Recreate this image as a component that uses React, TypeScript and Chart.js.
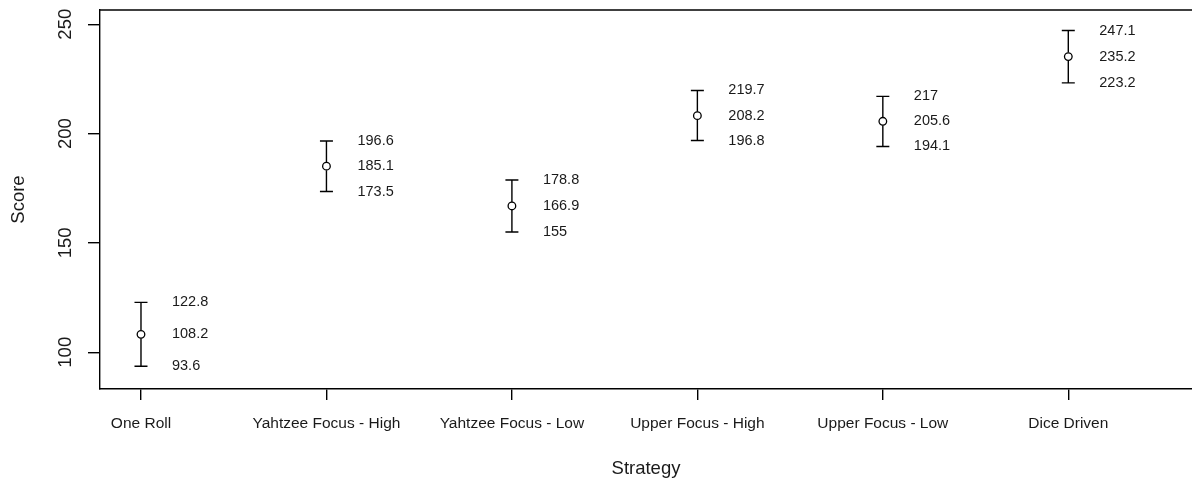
import React, { useEffect, useRef } from "react";
import { Chart, registerables } from "chart.js";

Chart.register(...registerables);

const categories = [
  "One Roll",
  "Yahtzee Focus - High",
  "Yahtzee Focus - Low",
  "Upper Focus - High",
  "Upper Focus - Low",
  "Dice Driven",
];
const meanScores = [108.2, 185.1, 166.9, 208.2, 205.6, 235.2];
const lowerBounds = [93.6, 173.5, 155, 196.8, 194.1, 223.2];
const upperBounds = [122.8, 196.6, 178.8, 219.7, 217, 247.1];
const yTickValues = [100, 150, 200, 250];

const FONT = "'Liberation Sans', Arial, sans-serif";
const TEXT = "#1a1a1a";

const errorBarPlugin = {
  id: "errorBars",
  afterDatasetsDraw(chart: any) {
    const { ctx, scales } = chart;
    const xs = scales.x;
    const ys = scales.y;
    ctx.save();
    ctx.strokeStyle = "#000";
    ctx.lineWidth = 1.4;
    ctx.fillStyle = TEXT;
    ctx.font = `14.5px ${FONT}`;
    ctx.textAlign = "left";
    ctx.textBaseline = "middle";
    categories.forEach((_, i) => {
      const x = xs.getPixelForValue(i + 1);
      const yHi = ys.getPixelForValue(upperBounds[i]);
      const yLo = ys.getPixelForValue(lowerBounds[i]);
      const yMid = ys.getPixelForValue(meanScores[i]);
      ctx.beginPath();
      ctx.moveTo(x, yHi);
      ctx.lineTo(x, yMid - 4);
      ctx.moveTo(x, yMid + 4);
      ctx.lineTo(x, yLo);
      ctx.moveTo(x - 6.5, yHi);
      ctx.lineTo(x + 6.5, yHi);
      ctx.moveTo(x - 6.5, yLo);
      ctx.lineTo(x + 6.5, yLo);
      ctx.stroke();
      ctx.fillText(String(upperBounds[i]), x + 31, yHi);
      ctx.fillText(String(meanScores[i]), x + 31, yMid);
      ctx.fillText(String(lowerBounds[i]), x + 31, yLo);
    });
    // box top line
    const a = chart.chartArea;
    ctx.lineWidth = 1.4;
    ctx.beginPath();
    ctx.moveTo(a.left, a.top);
    ctx.lineTo(chart.width, a.top);
    ctx.stroke();
    // rotated y tick labels
    ctx.font = `18.5px ${FONT}`;
    ctx.textAlign = "center";
    ctx.textBaseline = "middle";
    yTickValues.forEach((v) => {
      const y = ys.getPixelForValue(v);
      ctx.save();
      ctx.translate(66, y);
      ctx.rotate(-Math.PI / 2);
      ctx.fillText(String(v), 0, 0);
      ctx.restore();
    });
    ctx.restore();
  },
};

export default function App() {
  const ref = useRef<HTMLCanvasElement>(null);
  useEffect(() => {
    if (!ref.current) return;
    const chart = new Chart(ref.current, {
      type: "scatter",
      data: {
        datasets: [
          {
            data: meanScores.map((m, i) => ({ x: i + 1, y: m })),
            pointRadius: 3.8,
            pointHoverRadius: 3.8,
            pointBorderWidth: 1.3,
            borderColor: "#000",
            backgroundColor: "rgba(0,0,0,0)",
            pointBackgroundColor: "rgba(0,0,0,0)",
            pointBorderColor: "#000",
          },
        ],
      },
      options: {
        animation: false,
        responsive: false,
        devicePixelRatio: 1,
        layout: { autoPadding: false, padding: { top: 10, right: 0, left: 0, bottom: 0 } },
        plugins: {
          legend: { display: false },
          tooltip: { enabled: false },
        },
        scales: {
          x: {
            type: "linear",
            min: 0.779,
            max: 6.667,
            afterBuildTicks: (scale: any) => {
              scale.ticks = categories.map((_, i) => ({ value: i + 1 }));
            },
            afterFit: (scale: any) => {
              scale.height = 93;
              scale.paddingLeft = 0;
              scale.paddingRight = 0;
            },
            ticks: {
              autoSkip: false,
              maxRotation: 0,
              minRotation: 0,
              padding: 14,
              color: TEXT,
              font: { family: FONT, size: 15.5 },
              callback: (v: any) => categories[Math.round(Number(v)) - 1] ?? "",
            },
            grid: {
              drawOnChartArea: false,
              drawTicks: true,
              tickLength: 11,
              color: "#000",
              lineWidth: 1.4,
            },
            border: { display: true, color: "#000", width: 1.4 },
            title: {
              display: true,
              text: "Strategy",
              color: TEXT,
              font: { family: FONT, size: 18.5 },
              padding: { top: 0, bottom: 2 },
            },
          },
          y: {
            type: "linear",
            min: 83.2,
            max: 256.5,
            afterBuildTicks: (scale: any) => {
              scale.ticks = yTickValues.map((v) => ({ value: v }));
            },
            afterFit: (scale: any) => {
              scale.width = 100;
              scale.paddingTop = 0;
              scale.paddingBottom = 0;
            },
            ticks: { display: false },
            grid: {
              drawOnChartArea: false,
              drawTicks: true,
              tickLength: 12,
              color: "#000",
              lineWidth: 1.4,
            },
            border: { display: true, color: "#000", width: 1.4 },
            title: {
              display: true,
              text: "Score",
              color: TEXT,
              font: { family: FONT, size: 18.5 },
              padding: { top: 8, bottom: 0 },
            },
          },
        },
      },
      plugins: [errorBarPlugin],
    } as any);
    return () => chart.destroy();
  }, []);
  return (
    <div style={{ position: "fixed", left: 0, top: 0, width: 1192, height: 482, background: "#fff" }}>
      <canvas ref={ref} width={1192} height={482} style={{ width: 1192, height: 482, display: "block" }} />
    </div>
  );
}
